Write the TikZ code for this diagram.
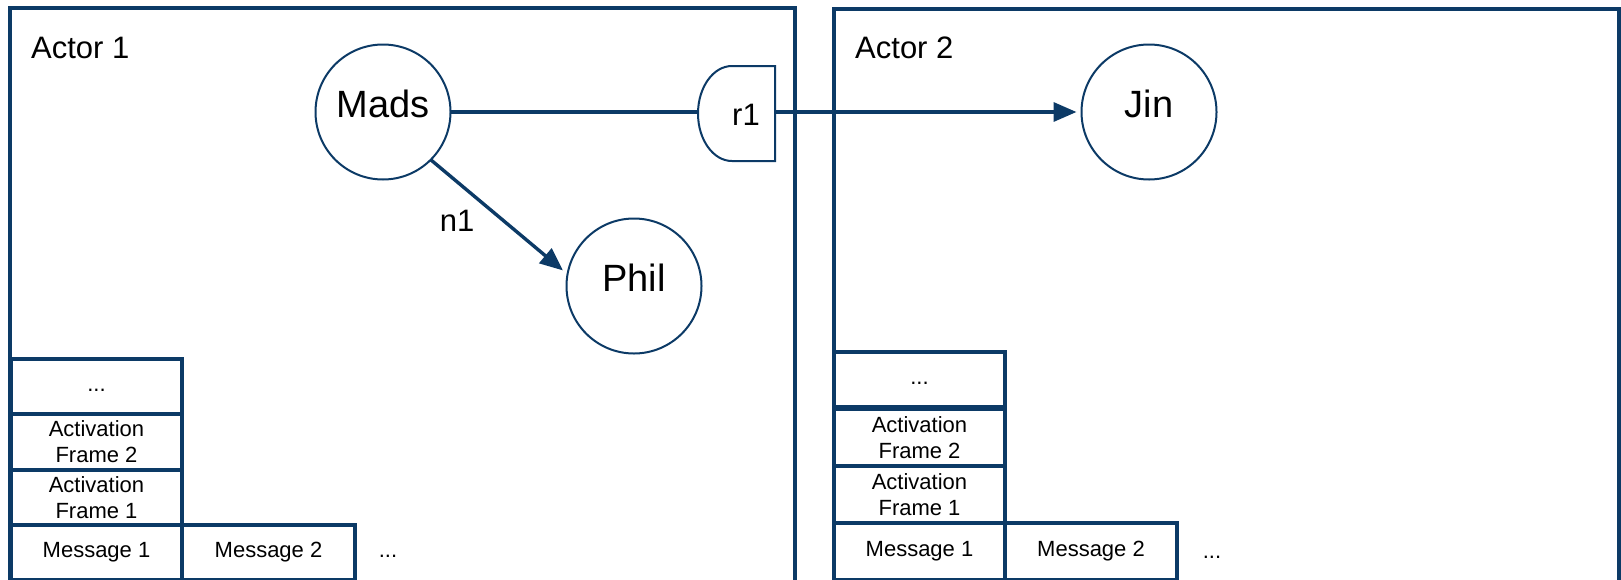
\documentclass[tikz,border=0pt]{standalone}
\usepackage{fontspec}
\setmainfont{Liberation Sans}
\usetikzlibrary{arrows.meta}
\definecolor{navy}{HTML}{0C3A66}
\begin{document}
\begin{tikzpicture}[x=1pt,y=-1pt,
  actorframe/.style={draw=navy,line width=4pt},
  agent/.style={circle,draw=navy,line width=2pt,minimum size=135pt,inner sep=0pt,outer sep=0pt,
    font=\fontsize{38}{45}\selectfont,text height=20pt,text depth=10pt},
  cell/.style={draw=navy,line width=4pt,rectangle,inner sep=0pt,outer sep=0pt,
    minimum width=171pt,align=center,font=\fontsize{22}{26}\selectfont},
  biglabel/.style={font=\fontsize{31}{37}\selectfont,inner sep=0pt},
  smalllabel/.style={font=\fontsize{22}{26}\selectfont,inner sep=0pt},
  wire/.style={draw=navy,line width=3.4pt},
  headed/.style={-{Triangle[length=23pt,width=19pt]}}
]
\useasboundingbox (0,0) rectangle (1621,579);
\clip (0,0) rectangle (1621,579);

% actor frames (open towards the bottom edge)
\draw[actorframe] (10,600) -- (10,8) -- (795,8) -- (795,600);
\draw[actorframe] (834,600) -- (834,9) -- (1619,9) -- (1619,600);
\node[biglabel,anchor=base west] (actor1) at (31,58) {Actor 1};
\node[biglabel,anchor=base west] (actor2) at (855,58) {Actor 2};

% agents
\node[agent] (mads) at (383,112) {Mads};
\node[agent] (phil) at (634,286) {Phil};
\node[agent] (jin) at (1149,112) {Jin};

% remote reference r1
\node[minimum width=77pt,minimum height=95pt,inner sep=0pt,outer sep=0pt] (r1box) at (736.5,113.5) {};
\draw[navy,line width=2pt,fill=white] (r1box.north east) -- (r1box.south east) -- ++(-43,0)
  arc[start angle=270,end angle=90,x radius=34pt,y radius=47.5pt] -- cycle;
\node[biglabel] (r1) at (746,115) {r1};

% connectors
\draw[wire] (mads.east) -- (mads.east -| r1box.west);
\draw[wire,headed,shorten >=5pt] (jin.west -| r1box.east) -- (jin.west);
\draw[wire,headed,shorten >=6pt] (mads.-45) -- (phil.170);
\node[biglabel] (n1) at (457,221) {n1};

% stack and mailbox of actor 1
\node[cell,minimum height=55pt] (ldots) at (96.5,386.5) {\strut...};
\node[cell,minimum height=56pt] (laf2) at (96.5,442) {Activation\\Frame 2};
\node[cell,minimum height=55pt] (laf1) at (96.5,497.5) {Activation\\Frame 1};
\node[cell,minimum height=55pt] (lm1) at (96.5,552.5) {\strut Message 1};
\node[cell,minimum height=55pt,minimum width=173pt] (lm2) at (268.5,552.5) {\strut Message 2};
\node[smalllabel,anchor=base] (lmore) at (388,557) {...};

% stack and mailbox of actor 2
\node[cell,minimum height=55pt] (rdots) at (919.5,379.5) {\strut...};
\node[cell,minimum height=57pt] (raf2) at (919.5,437.5) {Activation\\Frame 2};
\node[cell,minimum height=57pt] (raf1) at (919.5,494.5) {Activation\\Frame 1};
\node[cell,minimum height=57pt] (rm1) at (919.5,551.5) {\strut Message 1};
\node[cell,minimum height=57pt,minimum width=172pt] (rm2) at (1091,551.5) {\strut Message 2};
\node[smalllabel,anchor=base] (rmore) at (1212,558) {...};
\end{tikzpicture}
\end{document}
